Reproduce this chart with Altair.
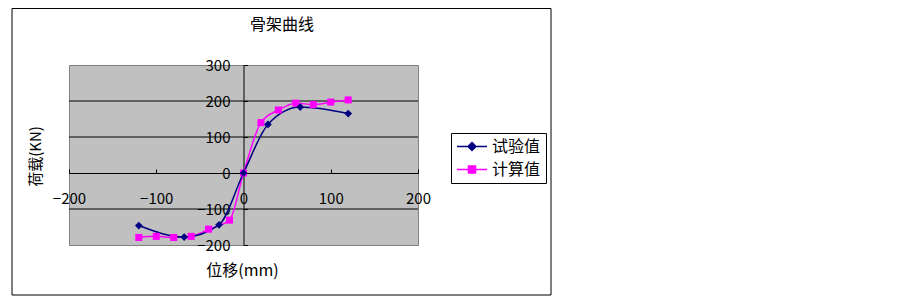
import altair as alt
import pandas as pd

# ---- data ----
exp_x = [-120, -68, -28, 0, 28, 65, 120]
exp_y = [-146, -178, -144, 0, 135, 183, 165]
calc_x = [-120, -100, -80, -60, -40, -16, 0, 20, 40, 60, 80, 100, 120]
calc_y = [-179, -176, -179, -176, -156, -131, 0, 140, 175, 194, 190, 197, 203]
series_names = ["试验值", "计算值"]
series_colors = ["#000080", "#FF00FF"]
x_ticks = [-200, -100, 0, 100, 200]
y_ticks = [-200, -100, 0, 100, 200, 300]
grid_vals = [-100, 100, 200]

FONT = "Noto Sans CJK SC"

df = pd.DataFrame(
    {"x": exp_x + calc_x,
     "y": exp_y + calc_y,
     "series": [series_names[0]] * len(exp_x) + [series_names[1]] * len(calc_x)}
)
grid_df = pd.DataFrame({"g": grid_vals})

W, H = 349, 180

xscale = alt.Scale(domain=[-200, 200], nice=False, zero=False)
yscale = alt.Scale(domain=[-200, 300], nice=False, zero=False)

x_axis = alt.Axis(
    orient="top", offset=-108, values=x_ticks, grid=False,
    domainColor="black", domainWidth=1, tickColor="black", tickSize=4, tickWidth=1,
    labelBaseline="top", labelPadding=-22, labelFontSize=15, labelFont=FONT,
    labelColor="black", labelOverlap=False, labelFlush=False, labelBound=False,
    title="位移(mm)", titleX=173, titleY=97, titleAlign="center", titleBaseline="middle",
    titleAngle=0, titleFontSize=16, titleFontWeight="normal", titleFont=FONT, titleColor="black",
)
y_axis = alt.Axis(
    orient="right", offset=-174.5, values=y_ticks, grid=False,
    domainColor="black", domainWidth=1, tickColor="black", tickSize=4, tickWidth=1,
    labelAlign="right", labelBaseline="middle", labelPadding=-17.5, labelFontSize=15,
    labelFont=FONT, labelColor="black", labelOverlap=False, labelFlush=False, labelBound=False,
    title="荷载(KN)", titleX=-208.5, titleY=91, titleAngle=270, titleAlign="center",
    titleBaseline="middle", titleFontSize=15, titleFontWeight="normal", titleFont=FONT,
    titleColor="black",
)

X = alt.X("x:Q", scale=xscale, axis=x_axis)
Y = alt.Y("y:Q", scale=yscale, axis=y_axis)

grid = alt.Chart(grid_df).mark_rule(color="black", strokeWidth=1).encode(
    y=alt.Y("g:Q", scale=yscale, axis=y_axis)
)

def series_layers(name, color, shape, size):
    base = alt.Chart(df).transform_filter(alt.datum.series == name)
    line = base.mark_line(color=color, strokeWidth=1.5, interpolate="monotone").encode(x=X, y=Y)
    pts = base.mark_point(filled=True, color=color, shape=shape, size=size, opacity=1).encode(x=X, y=Y)
    return line, pts

l1, p1 = series_layers(series_names[0], series_colors[0], "diamond", 60)
l2, p2 = series_layers(series_names[1], series_colors[1], "square", 50)

path_d = "M-1,0L3,0M1,-0.53L1.53,0L1,0.53L0.47,0Z"
path_s = "M-1,0L3,0M0.53,-0.47L1.47,-0.47L1.47,0.47L0.53,0.47Z"

legend_layer = alt.Chart(df).transform_filter("false").mark_point(
    filled=True, strokeWidth=1.5, opacity=1
).encode(
    x=X, y=Y,
    fill=alt.Fill("series:N", scale=alt.Scale(domain=series_names, range=series_colors),
                  legend=alt.Legend(title=None)),
    stroke=alt.Stroke("series:N", scale=alt.Scale(domain=series_names, range=series_colors),
                      legend=alt.Legend(title=None)),
    shape=alt.Shape("series:N", scale=alt.Scale(domain=series_names, range=[path_d, path_s]),
                    legend=alt.Legend(title=None)),
)

border = alt.Chart(alt.Data(values=[{"a": 1}])).mark_rect(
    fill=None, stroke="black", strokeWidth=1
).encode(
    x=alt.value(-57), x2=alt.value(482), y=alt.value(-56.5), y2=alt.value(230)
)

chart = alt.layer(border, grid, l2, l1, p2, p1, legend_layer).properties(
    width=W, height=H,
    title=alt.TitleParams("骨架曲线", anchor="middle", dx=38.5, dy=33, offset=0, fontSize=16,
                          fontWeight="normal", font=FONT, color="black", baseline="middle"),
    autosize=alt.AutoSizeParams(type="none"),
    padding={"left": 61, "top": 57, "right": 140, "bottom": 52},
).configure_view(
    fill="#C0C0C0", stroke="#808080", strokeWidth=1
).configure_legend(
    orient="none", legendX=382, legendY=68, strokeColor="black", fillColor="white",
    padding=5, symbolSize=225, labelOffset=19, labelFontSize=16, labelFont=FONT,
    labelColor="black", rowPadding=6, symbolStrokeWidth=1.5, cornerRadius=0, symbolOpacity=1,
)

chart.save("out.html", embed_options={"renderer": "svg", "actions": False})
